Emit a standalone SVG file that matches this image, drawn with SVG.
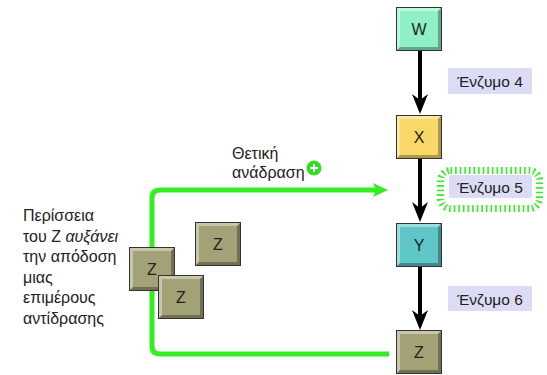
<svg xmlns="http://www.w3.org/2000/svg" xmlns:xlink="http://www.w3.org/1999/xlink" width="547" height="375" viewBox="0 0 547 375">
<style>
.lbl{font-family:"Liberation Sans",Arial,sans-serif;font-size:16px;fill:#222}
.box{font-family:"Liberation Sans",Arial,sans-serif;font-size:16px;fill:#222;text-anchor:middle}
.enz{font-family:"Liberation Sans",Arial,sans-serif;font-size:15.5px;fill:#222;text-anchor:middle}
.tag{fill:#dcdcf6}
.fb{fill:none;stroke:#33ee22;stroke-width:5}
.blk{stroke:#000;stroke-width:4}
</style>
<defs>
<g id="bevel">
<path d="M1,1 H45 L42,4 H4 V40 L1,43 Z" fill="#fff" opacity="0.4"/>
<path d="M45,1 V43 H1 L4,40 H42 V4 Z" fill="#000" opacity="0.3"/>
<rect x="0.5" y="0.5" width="45" height="43" fill="none" stroke="#333" stroke-width="1"/>
</g>
</defs>
<rect width="547" height="375" fill="#fff"/>

<g id="connectors">
<path class="fb" d="M389,354 H160 Q152,354 152,346 V198 Q152,190 160,190 H376"/>
<path d="M373,183 L388,190 L373,197 L376,190 Z" fill="#33ee22"/>
<line class="blk" x1="420" y1="51" x2="420" y2="100"/>
<path d="M412,94 L420,114 L428,94 L420,100 Z" fill="#000"/>
<line class="blk" x1="420" y1="159" x2="420" y2="208"/>
<path d="M412,202 L420,222 L428,202 L420,208 Z" fill="#000"/>
<line class="blk" x1="420" y1="267" x2="420" y2="316"/>
<path d="M412,310 L420,330 L428,310 L420,316 Z" fill="#000"/>
</g>

<g id="node-W">
<rect x="396" y="7" width="46" height="44" fill="#8ff0c6"/>
<use xlink:href="#bevel" x="396" y="7"/>
<text class="box" x="419" y="35">W</text>
</g>
<g id="node-X">
<rect x="396" y="115" width="46" height="44" fill="#f8d868"/>
<use xlink:href="#bevel" x="396" y="115"/>
<text class="box" x="419" y="143">X</text>
</g>
<g id="node-Y">
<rect x="396" y="223" width="46" height="44" fill="#5ec6c6"/>
<use xlink:href="#bevel" x="396" y="223"/>
<text class="box" x="419" y="251">Y</text>
</g>
<g id="node-Z">
<rect x="396" y="330" width="46" height="44" fill="#a3a176"/>
<use xlink:href="#bevel" x="396" y="330"/>
<text class="box" x="419" y="358">Z</text>
</g>
<g id="node-Z3">
<rect x="195" y="222" width="46" height="44" fill="#a3a176"/>
<use xlink:href="#bevel" x="195" y="222"/>
<text class="box" x="218" y="250">Z</text>
</g>
<g id="node-Z1">
<rect x="129" y="247" width="46" height="44" fill="#a3a176"/>
<use xlink:href="#bevel" x="129" y="247"/>
<text class="box" x="152" y="275">Z</text>
</g>
<g id="node-Z2">
<rect x="158" y="275" width="46" height="44" fill="#a3a176"/>
<use xlink:href="#bevel" x="158" y="275"/>
<text class="box" x="181" y="303">Z</text>
</g>

<g id="enzyme4">
<rect class="tag" x="448" y="68" width="84" height="26"/>
<text class="enz" x="490" y="87">Ένζυμο 4</text>
</g>
<g id="enzyme5">
<rect x="440.5" y="170.5" width="99" height="38" rx="10" fill="none" stroke="#33ee22" stroke-width="7" stroke-dasharray="1.6 3"/>
<rect class="tag" x="449" y="175" width="83" height="23"/>
<text class="enz" x="490" y="192.5">Ένζυμο 5</text>
</g>
<g id="enzyme6">
<rect class="tag" x="448" y="286" width="84" height="25"/>
<text class="enz" x="490" y="304.5">Ένζυμο 6</text>
</g>

<g id="feedback-label">
<text class="lbl" x="232" y="159">Θετική</text>
<text class="lbl" x="232" y="178">ανάδραση</text>
<circle cx="314" cy="168" r="7.5" fill="#33dd22"/>
<path d="M310,168 H318 M314,164 V172" stroke="#fff" stroke-width="2"/>
</g>

<g id="note">
<text class="lbl" x="23" y="221">Περίσσεια</text>
<text class="lbl" x="23" y="241.5">του Ζ <tspan font-style="italic">αυξάνει</tspan></text>
<text class="lbl" x="23" y="262">την απόδοση</text>
<text class="lbl" x="23" y="282.5">μιας</text>
<text class="lbl" x="23" y="303">επιμέρους</text>
<text class="lbl" x="23" y="323.5">αντίδρασης</text>
</g>
</svg>
